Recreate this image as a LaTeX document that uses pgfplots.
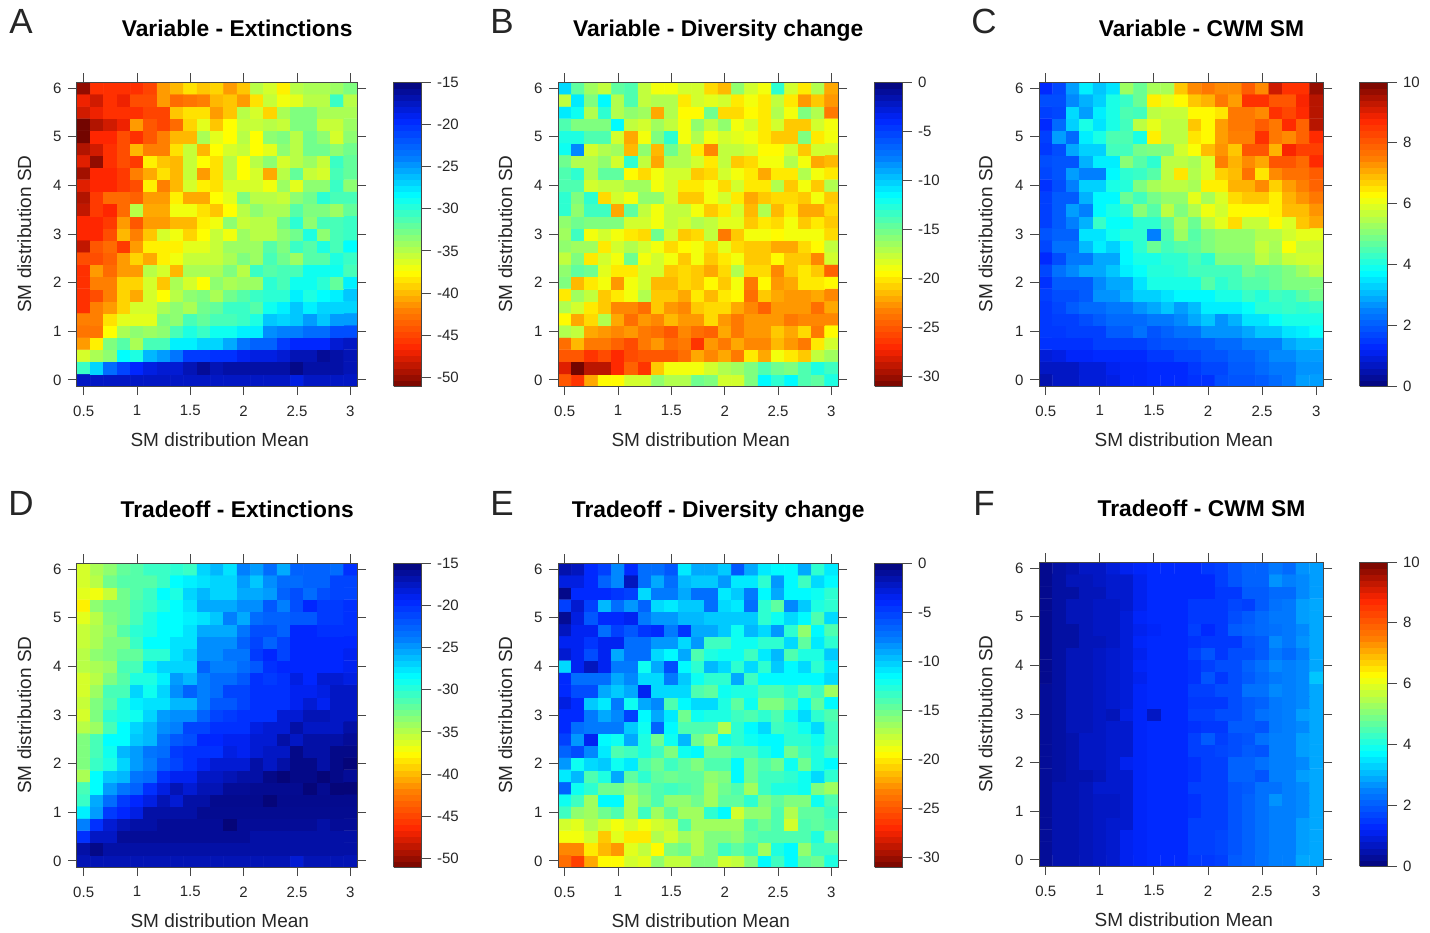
\documentclass[border=0pt]{standalone}
\usepackage{fontspec}
\setmainfont{Liberation Sans}
\usepackage{pgfplots}
\usepackage{pgfplotstable}
\pgfplotsset{compat=1.18}
% rows run from SD=6 (top) to SD=0 (bottom); columns from Mean=0.5 to Mean=3
\pgfplotstableread[header=false]{
-50 -46 -46 -46 -46 -45 -41 -40 -38.5 -39.5 -39 -41 -39.5 -35 -36 -38 -35 -34.5 -34.5 -34 -33
-47 -48 -46 -47 -44.5 -44.5 -41 -43 -42.5 -42 -40 -39.5 -41 -38.5 -35.5 -37 -36.5 -35 -35 -30.5 -35
-48 -47 -46 -46 -46 -45 -45 -39.5 -38.5 -38.5 -41 -39.5 -35 -36 -39 -34.5 -33 -33 -34.5 -34.5 -34.5
-51 -49 -48 -47 -41 -44 -45 -43 -39 -36.5 -39.5 -37.5 -35.5 -35.5 -35 -35.5 -33 -33 -35.5 -35.5 -34
-51 -46.5 -46.5 -44.5 -46 -44 -42 -40 -40 -34.5 -36.5 -37.5 -35 -37.5 -33.5 -33 -35 -32.5 -33.5 -36 -33.5
-49 -48 -46 -44.5 -40 -42 -42 -38.5 -35.5 -40 -37.5 -36 -35.5 -37.5 -36.5 -33.5 -35 -32.5 -32.5 -33.5 -32.5
-47.5 -50 -46 -44.5 -45.5 -38 -39.5 -40 -35.5 -37.5 -38.5 -35 -37.5 -35 -33.5 -36 -35 -34 -35.5 -30.5 -32
-49.5 -46.5 -46.5 -45.5 -42 -40.5 -38.5 -40 -35.5 -41 -38.5 -35 -37.5 -36 -40.5 -35 -32 -35.5 -36 -31 -32
-47.5 -46.5 -46.5 -45.5 -44.5 -38 -42 -40 -36 -38 -38.5 -36 -36 -36 -37 -34 -36.5 -33.5 -33.5 -30.5 -33.5
-49 -45.5 -43 -43 -43.5 -41 -41 -38 -40.5 -40.5 -37.5 -36.5 -33 -35 -35 -35.5 -33.5 -32.5 -30 -31 -31
-48.5 -45.5 -46.5 -43 -35 -40.5 -40.5 -37 -37 -38.5 -39.5 -37.5 -35 -33.5 -34.5 -34.5 -31.5 -33 -33 -34 -32
-46.5 -46.5 -45.5 -41 -44 -41 -41 -40 -40 -38 -37 -33.5 -35.5 -35 -35 -32.5 -30 -33.5 -31 -31 -30.5
-46.5 -46.5 -44.5 -40 -42 -39.5 -36 -37 -39 -37.5 -35.5 -37 -34 -35 -35 -33.5 -32.5 -29.5 -33.5 -31 -30.5
-48.5 -44 -43 -45.5 -41 -38 -38 -38 -36.5 -36.5 -35.5 -34 -34 -34 -31.5 -33 -30.5 -31.5 -29.5 -31 -28.5
-44.5 -44.5 -43.5 -41 -39 -40.5 -38 -37 -35.5 -35.5 -35.5 -34.5 -33 -34 -31 -32.5 -34 -31.5 -31.5 -29.5 -30.5
-46 -41 -43 -41 -41 -35 -36 -40 -34.5 -34.5 -34.5 -33 -35 -30.5 -31.5 -31 -31 -29 -29 -29 -31
-46 -42 -42 -39 -39 -36 -39.5 -34.5 -36 -37.5 -33.5 -34.5 -34 -34 -30 -31 -29 -29 -30 -32 -28
-46 -44.5 -42 -39 -40.5 -36 -37.5 -35 -33.5 -33 -34.5 -32.5 -31.5 -30.5 -30 -30 -28 -29.5 -28.5 -28 -26.5
-46 -42 -41 -39 -36 -36 -34.5 -33.5 -34.5 -32.5 -32 -30.5 -30.5 -31.5 -29 -28 -26.5 -28 -27 -27 -27
-42 -42 -38.5 -36.5 -36.5 -36.5 -33 -33.5 -31 -32 -31 -31 -30.5 -29.5 -26.5 -27 -26.5 -25 -26.5 -25 -25
-42.5 -42.5 -37.5 -34.5 -33.5 -34 -33.5 -31 -29.5 -30.5 -29 -29 -28 -28 -24.5 -24 -24 -23 -23 -21.5 -21.5
-41 -38 -33 -31.5 -34.5 -31 -31 -28 -28 -27 -27 -25.5 -23.5 -22.5 -22.5 -20.5 -19.5 -19.5 -19.5 -18 -17.5
-36 -34.5 -33.5 -28.5 -29.5 -26 -25 -23.5 -20.5 -20.5 -20 -20 -19 -18.5 -18.5 -18 -17 -17 -16 -16.5 -17
-30.5 -27 -23 -21 -19.5 -18.5 -18 -18 -17 -16 -17 -16.5 -16.5 -16.5 -16.5 -16.5 -15.5 -16.5 -16.5 -16.5 -17
-17.5 -17.5 -17.5 -17.5 -17.5 -17.5 -17.5 -17.5 -17.5 -17.5 -17.5 -17.5 -17.5 -17.5 -17.5 -17.5 -18.5 -17.5 -17.5 -17.5 -17.5
}\tA
\pgfplotstableread[header=false]{
-10.5 -14.5 -16.5 -17.5 -14.5 -14 -17.5 -19 -19 -18 -18 -20.5 -21.5 -16 -18 -19 -13 -18 -20 -17 -22
-17.5 -11 -15.5 -11.5 -17 -14 -17.5 -17 -17 -20 -18 -18.5 -18 -20 -19 -20 -17.5 -20 -22.5 -21 -22.5
-11 -12 -17 -13 -17 -16 -16.5 -22 -17 -19.5 -19.5 -15 -20.5 -20.5 -19.5 -20 -17 -19 -15.5 -17 -23.5
-14 -15.5 -15.5 -15.5 -11.5 -17.5 -18 -16.5 -17.5 -19 -16 -17.5 -16 -19 -18 -20 -18 -21 -21 -18 -19
-12.5 -12.5 -14 -14 -18 -22 -19 -15.5 -13 -19 -17 -19 -18 -18.5 -19 -20 -21 -21 -15.5 -20 -19
-12 -8 -18 -17 -16.5 -21.5 -16 -21.5 -15 -17 -20 -23 -17.5 -17.5 -18 -19.5 -19.5 -18 -21 -18 -18
-15 -17 -17 -16 -18 -13 -17.5 -22 -17 -17 -18 -20 -17.5 -21 -20.5 -19 -19 -17 -19 -22 -21.5
-14 -13 -17 -14.5 -14.5 -19.5 -20.5 -19 -18 -18 -21 -20.5 -18 -19 -20 -22 -20 -20 -17 -19 -20
-14 -14 -18 -17.5 -17.5 -16.5 -16.5 -19 -18 -20 -20 -19 -20.5 -18 -20 -20 -17 -21 -19 -21 -17
-13 -15.5 -13 -20.5 -18 -19 -16 -16 -18 -21 -21 -19 -18 -20 -22 -21 -20.5 -20.5 -21 -19 -21
-13 -16 -13.5 -13.5 -22 -14.5 -17.5 -19 -17.5 -17.5 -19 -21 -20 -18 -21.5 -17 -21.5 -20 -22 -22 -20.5
-16 -15 -15.5 -15.5 -15.5 -18 -18 -19 -17.5 -18 -17 -17.5 -18.5 -18.5 -21 -20 -20.5 -19 -21 -20 -21
-16.5 -13.5 -19 -18 -19 -20 -20.5 -15 -18 -21 -20.5 -17.5 -23.5 -21 -19 -19 -19.5 -19 -19 -19 -20.5
-16 -16.5 -16.5 -20 -18 -17 -18 -19 -20.5 -19.5 -19 -20.5 -18.5 -20.5 -21 -21 -22 -22 -20.5 -19.5 -17.5
-17.5 -15.5 -20 -18 -19 -15 -19 -18 -19 -21 -19 -21 -20 -19 -21 -21 -19.5 -21 -21 -23 -18
-16 -14.5 -15 -18.5 -20 -20 -18 -18 -21 -20.5 -21 -22 -20.5 -17 -20.5 -20.5 -23 -21 -20 -21 -24.5
-15.5 -21.5 -20 -19 -22.5 -19 -18 -21.5 -21.5 -20.5 -21 -19.5 -21 -19 -23.5 -19.5 -22.5 -22 -20 -20 -19.5
-20 -16.5 -17.5 -21 -20 -19 -17 -21 -21 -22 -20 -21.5 -20 -19.5 -24 -21 -22 -22.5 -22.5 -22 -23
-17 -18 -20 -21 -23 -23 -24 -21 -22.5 -23 -21 -20.5 -20.5 -22 -23 -24.5 -22.5 -22.5 -22.5 -24 -22
-19.5 -22 -20.5 -17 -22 -24 -22.5 -23 -21.5 -22.5 -22.5 -20.5 -22.5 -23.5 -22.5 -22.5 -22.5 -23.5 -23 -23 -23
-17 -17.5 -22 -22.5 -23 -22.5 -23.5 -24 -25 -23 -24 -24.5 -22 -23.5 -22.5 -22.5 -21 -22 -20.5 -23.5 -19.5
-24 -21.5 -23.5 -23.5 -24.5 -25.5 -23.5 -22.5 -24 -23.5 -26.5 -22.5 -23.5 -22 -23 -23 -21.5 -22.5 -23.5 -20 -18
-25 -25 -26.5 -25.5 -27 -25.5 -25 -25 -25 -24 -22 -23 -22 -23.5 -20 -22 -19 -20 -21 -17.5 -16.5
-28 -31 -29 -29 -27 -24.5 -26.5 -21 -19 -19 -19 -18 -17 -16.5 -15.5 -14 -15 -15.5 -14 -12.5 -13.5
-25 -26.5 -22 -19.5 -19.5 -18 -18 -16 -17 -17 -15 -15.5 -18 -18 -15.5 -11.5 -13 -11.5 -14 -14.5 -12.5
}\tB
\pgfplotstableread[header=false]{
1.3 1.7 2.8 3.6 3.2 3.5 5.3 4.8 5.4 5.4 6.8 7.4 7.6 7.4 7.4 8 7.4 9.2 8.6 8.6 9.7
1.8 1.8 2.6 3 3.3 4 4.3 4.8 6.4 6 6.3 6.8 7 7.6 7.2 8.6 8.6 8.1 8.1 8.8 9.4
1.6 1.7 3.4 2.8 3.6 4 4.5 4.4 5.6 5.7 5.7 6.3 6.3 6.5 7.6 7.6 7.4 8.6 8.3 8.7 9.4
1.3 2.2 3.3 4 3.5 4 4.4 5.6 6 5.6 5.6 6.8 6.3 7.2 7.6 7.6 8 7.6 8.7 7.9 9.4
1.6 2.8 2.2 3.6 4 4.5 4.5 4 6.4 5.6 5.6 6.5 6.3 7.2 7.5 7.5 8.6 7.6 7.4 7.9 8.7
1.5 1.8 2.9 3.3 3.3 4.4 4.4 4.9 5 5 5.8 6.2 6.9 7.3 6.8 8.1 8.1 7 8.8 8.4 8.4
1.8 1.9 1.9 3 3.6 3.6 5.1 4.6 4.2 5.6 5.6 5.4 5.9 7.5 7 7.4 7.1 8.1 8.1 7.8 8.7
1.7 1.9 2.8 2.5 2.5 3.7 4.2 4.3 4.6 5.6 6.5 5.5 5.9 6.7 6.9 7.7 6.5 7.4 7.7 7.7 8
1.4 1.8 2.5 3.3 3.3 4 4.1 5 5.4 5.6 5.6 5.4 6.4 6.4 7 7 7.4 6.7 7.2 7.5 7.9
1.6 2 2 3 3.7 3.7 4.8 4.4 4.9 5.2 5.2 6 5.4 5.9 6.6 6.8 6.8 6.4 7 7.3 7.6
1.6 2 2.8 2.5 3.7 4 4.2 5.1 4.6 5.6 5 5.5 6.1 5.8 6.3 6.3 6.3 6.4 6.9 6.9 7.3
1.6 2 2.5 3 4.3 3.8 3.8 4.2 4.2 4.7 5.4 4.8 5.6 6 6.6 5.7 5.7 6.3 5.9 6.8 7.1
1.9 2.1 2.1 3.5 3.5 3.9 4.2 4.2 2.5 4.5 5.3 4.6 5 5.2 5.2 5.2 5.5 5.5 5.8 6 6
1.7 2.3 2.3 3.1 3.6 3.3 3.7 4.2 4.8 4.4 4.6 4.7 5 5.2 5.2 5.2 5.7 5.4 6.2 5.7 5.7
1.3 1.8 2.4 2.4 2.9 2.9 3.7 4 4 4.2 4.2 4.5 4.2 5 5 5 5.6 5.3 5.7 5.8 5.8
1.7 2.3 2.6 2.9 2.9 3.2 3.6 3.8 4.1 4.1 4.2 4.4 4.4 4.4 4.4 4.9 4.7 4.8 5 5.3 5.6
1.4 2 2 2 2.6 2.9 2.9 3.5 4 4 4 4 4.6 4.2 4.4 4.6 4.6 4.8 5 5 5
1.6 1.8 1.8 2 2.7 2.7 3 3.3 3.3 3.5 3.7 3.7 3.7 4 4 4.3 4.1 4.4 4.3 4.6 4.9
1.5 1.7 2 2.2 2.2 2.4 2.4 2.7 2.9 3.2 2.8 3.1 3.6 3.6 3.6 3.8 4.2 4.2 4.3 4.2 4.3
1.5 1.6 1.6 1.8 2 2.2 2.2 2.2 2.4 2.4 2.6 2.9 3.2 2.7 3 3.5 3.5 3.8 4 4 4
1.5 1.5 1.6 1.6 1.6 2 2 2.3 1.9 2.1 2.3 2.3 2.7 2.7 2.7 2.9 3.2 3.2 3.5 3.6 3.8
1.4 1.4 1.4 1.4 1.6 1.6 1.6 1.6 1.8 1.9 1.9 2 2 2.2 2.2 2.5 2.5 2.5 2.9 3.1 3.1
0.9 1 1.2 1.2 1.3 1.3 1.3 1.3 1.5 1.5 1.7 1.7 1.9 1.9 2.1 2.1 2.3 2.6 2.6 2.8 2.8
0.7 0.7 0.7 0.9 0.9 1.1 1.2 1.2 1.3 1.3 1.3 1.5 1.7 1.7 2 2 2.2 2.4 2.4 2.7 2.7
0.5 0.7 0.7 0.9 0.9 1 1.2 1.2 1.3 1.3 1.3 1.4 1.4 1.8 1.9 1.9 2 2.2 2.4 2.8 2.8
}\tC
\pgfplotstableread[header=false]{
-36 -34.5 -33.5 -32 -31.5 -30.5 -30.5 -30 -30.5 -27 -26 -27.5 -24 -25 -23 -25.5 -22.5 -22.5 -22.5 -23 -20
-36 -35 -32.5 -31.5 -31.5 -31.5 -30.5 -28.5 -28 -27.5 -27 -27 -25 -26.5 -24.5 -23 -23 -22.5 -22.5 -21 -21
-36.5 -37 -35.5 -32.5 -31.5 -30.5 -28.5 -29.5 -27 -26 -27 -27 -25.5 -25.5 -25 -22.5 -21.5 -23 -21.5 -21 -21
-38 -33.5 -32.5 -32.5 -31 -30.5 -29.5 -28.5 -27.5 -25.5 -25.5 -25.5 -24.5 -24.5 -22 -24 -21.5 -19.5 -20.5 -20.5 -20
-36.5 -35 -33 -32.5 -31 -29.5 -28.5 -28.5 -28 -27.5 -26.5 -24 -25.5 -23 -22.5 -22.5 -22 -22 -20.5 -20.5 -20
-35.5 -34.5 -33.5 -31.5 -30 -29.5 -28.5 -28.5 -27.5 -25.5 -25.5 -25.5 -23.5 -21.5 -21.5 -22.5 -19.5 -19.5 -20 -20 -20
-35.5 -34.5 -33 -33 -30.5 -28.5 -28.5 -27.5 -27.5 -24.5 -24.5 -24.5 -22.5 -21 -22.5 -21 -19.5 -19.5 -19.5 -19.5 -19.5
-35 -33.5 -33 -32 -32 -30 -30 -27.5 -26.5 -24.5 -24.5 -23.5 -23.5 -20.5 -19.5 -21 -19.5 -19.5 -19.5 -19.5 -19
-35 -34.5 -34 -31 -31 -28 -27 -27 -27 -22.5 -24 -24 -23 -22 -20 -19.5 -19.5 -19.5 -19.5 -19.5 -19
-36 -35 -33 -31.5 -29.5 -29.5 -28 -25 -26 -24 -23 -23 -22 -20 -20.5 -20 -18.5 -19.5 -18 -18 -18.5
-36 -34 -31 -31 -27 -29 -27 -24.5 -22.5 -24 -23 -21 -21 -20 -20 -20 -19 -19 -18.5 -17.5 -17.5
-35.5 -33 -31.5 -29.5 -28 -27.5 -27.5 -26 -26 -24 -22 -22 -21 -20 -20 -20 -19 -18 -19 -17.5 -17.5
-36 -33 -30 -29.5 -29 -27 -25 -24.5 -24.5 -22.5 -21 -20.5 -20 -20 -20 -18 -18 -17 -17 -17.5 -17.5
-35 -34 -31 -28.5 -27 -26 -24.5 -24 -21 -21 -20 -20 -20 -18.5 -18 -18 -16.5 -17.5 -17.5 -17.5 -16.5
-33 -31 -28.5 -28.5 -26.5 -26 -23.5 -22 -21.5 -19.5 -19.5 -19 -19 -18 -18 -16.5 -17.5 -16.5 -16.5 -16.5 -16
-33 -31 -29 -26 -25 -23.5 -23 -20.5 -20 -20 -20 -18.5 -19 -18 -17.5 -17.5 -15.5 -16.5 -16.5 -15.5 -15.5
-33 -30.5 -29.5 -27 -25 -24 -22 -21 -20 -19 -18 -18 -18 -16.5 -17.5 -16.5 -15.5 -15.5 -16.5 -15.5 -15
-34.5 -28.5 -26.5 -26 -23.5 -23 -20 -19 -19 -17.5 -17.5 -17 -16.5 -16.5 -15.5 -15 -15.5 -15.5 -15 -15.5 -16
-31 -28.5 -25 -23.5 -22.5 -20 -18.5 -17 -18 -17 -17 -16 -16 -15.8 -15.8 -15.8 -15.8 -15 -15.8 -15 -15
-30.5 -25.5 -23 -20.5 -19.5 -18.5 -17 -18 -16.5 -16.5 -15.7 -15.7 -15.7 -15.7 -15 -15.7 -15.7 -15.7 -15.7 -15.7 -15.7
-28 -25 -20.5 -19.5 -18.5 -16.5 -16.5 -16.5 -16.5 -15.8 -15.8 -15.8 -15.8 -15.8 -15.8 -15.8 -15.8 -15.8 -15.8 -15.8 -15.8
-24 -20 -18 -17 -16.5 -16.5 -16 -16 -16 -16 -16 -15 -16 -16 -16 -16 -16 -16 -16.5 -16 -16
-20 -17.5 -17.5 -16 -16 -16 -16 -16 -16 -16 -16 -16 -16 -16.5 -16.5 -16.5 -16.5 -16.5 -16.5 -16.5 -16.5
-16.5 -15.5 -16.5 -16.5 -16.5 -16.5 -16.5 -16.5 -16.5 -16.5 -16.5 -16.5 -16.5 -16.5 -16.5 -16.5 -16.5 -16.5 -16.5 -16.5 -16.5
-17 -17 -17 -17 -17 -17 -17 -17 -17 -17 -17 -17 -17 -17 -17 -17 -18 -17 -17 -17 -17
}\tD
\pgfplotstableread[header=false]{
-1.5 -2 -4 -5 -8 -4 -7 -7 -6 -11 -9 -9 -10 -6 -9 -11 -11.5 -11.5 -9 -13 -11
-3 -3 -4 -6.5 -8 -2 -7 -9 -7 -9.5 -10 -10 -8.5 -11 -11 -13 -8.5 -11.5 -13.5 -10.5 -11.5
-0.5 -4 -4 -4 -4.5 -5 -10.5 -7.5 -7.5 -9 -7 -7 -11 -10 -7.5 -11.5 -9 -11.5 -11.5 -12 -13
-5 -2.5 -5 -9.5 -7 -8.5 -6.5 -10.5 -11 -10 -10 -7 -10.5 -11 -7 -13 -14.5 -8 -10 -12.5 -13
-0.8 -3 -6 -4 -4 -3.5 -7.5 -8.5 -8.5 -9.5 -9.5 -10 -10 -10 -10 -13 -12 -10.5 -11.5 -14 -10.5
-2 -3.5 -3.5 -7 -5 -6 -4.5 -4 -7.5 -4.5 -9 -9 -10 -12 -9.5 -10.5 -8.5 -13 -16 -11.5 -14
-3.5 -3.5 -4.5 -3.5 -3.5 -7 -7 -8.5 -8.5 -10.5 -8.5 -13.5 -13.5 -12 -12 -13 -13 -10.5 -14.5 -11 -13
-2.5 -3.5 -5.5 -3.5 -9 -7 -7 -10.5 -11.5 -9 -14 -12.5 -12 -12 -13.5 -11 -9.5 -14 -12.5 -12.5 -10
-10.5 -3.5 -2 -3.5 -7.5 -7.5 -12 -9 -5.5 -11.5 -13 -9.5 -10.5 -13 -10.5 -13 -10 -11.5 -10.5 -13 -11
-4 -7 -7 -7 -9 -8 -10.5 -10.5 -7.5 -10 -12 -13 -13 -9 -13.5 -11.5 -11.5 -11.5 -11.5 -11.5 -10.5
-4 -5.5 -5.5 -9 -10 -9 -3.5 -10.5 -10.5 -10.5 -14 -14.5 -12 -12.5 -12.5 -14 -14 -13 -14.5 -13.5 -16.5
-3 -4 -10 -11 -7.5 -12 -9 -8 -14 -11.5 -10.5 -10.5 -12.5 -14.5 -12 -15.5 -15.5 -14 -11.5 -14.5 -11.5
-4 -4 -7.5 -9 -8 -5 -11.5 -9 -11 -15 -12 -12.5 -12.5 -13.5 -14 -13 -14 -12 -10.5 -13 -14
-4 -7 -7.5 -7.5 -7.5 -10 -12 -6.5 -11.5 -14 -14 -14 -17 -13 -11.5 -10.5 -13.5 -13 -12 -10.5 -13.5
-5 -8.5 -3.5 -11.5 -12 -9 -12.5 -15 -12 -9.5 -15 -16.5 -12 -13 -12 -11.5 -11.5 -13 -13 -12 -13.5
-6.5 -5.5 -8 -11 -14 -13.5 -12.5 -13.5 -15.5 -12 -11.5 -15 -15 -14 -14 -12.5 -11.5 -15 -13.5 -12.5 -14
-8.5 -12 -10.5 -10 -12 -11 -14 -15 -13.5 -14.5 -15.5 -14 -14 -11.5 -15 -14 -15 -12 -15 -12.5 -11.5
-11 -9.5 -14 -12.5 -9 -14.5 -13 -14.5 -15 -14.5 -14.5 -16 -15.5 -11.5 -15 -13.5 -13.5 -13 -12 -10.5 -13
-6.5 -12 -13 -15 -15 -16 -15 -14 -13.5 -14 -14.5 -16.5 -15 -14 -16.5 -13.5 -12.5 -12.5 -12 -15.5 -16.5
-12 -13.5 -16.5 -11.5 -11.5 -17 -15.5 -14 -16 -16 -15 -16.5 -14.5 -14.5 -13 -15.5 -14.5 -15.5 -15.5 -12 -14
-13.5 -16 -16.5 -15 -14 -17 -13.5 -16.5 -14.5 -16.5 -16.5 -13 -11.5 -18 -16 -16 -14 -17 -14.5 -14.5 -13.5
-18 -18.5 -17 -18 -19 -18 -19 -18 -17.5 -14 -16.5 -16.5 -16.5 -16.5 -14 -15 -14 -18 -14 -14.5 -14
-19 -19 -18 -21 -18.5 -20 -20 -17 -18 -16.5 -17 -15.5 -15.5 -16 -14.5 -14 -14 -14 -14 -12.5 -15.5
-23 -23 -20 -21.5 -22.5 -18.5 -17.5 -19.5 -15.5 -15 -17 -15.5 -13.5 -14.5 -13.5 -16.5 -12.5 -11.5 -16 -13.5 -13.5
-24 -26 -22 -19.5 -19.5 -18 -18.5 -16 -17.5 -17.5 -15.5 -15.5 -18 -17.5 -15.5 -11.5 -13.5 -11.5 -14.5 -15 -12.5
}\tE
\pgfplotstableread[header=false]{
0.2 0.4 0.5 0.7 0.7 0.9 1.1 1.2 1.3 1.3 1.3 1.3 1.5 1.6 1.9 2.1 2.1 2.4 2.2 2.7 2.8
0.2 0.4 0.6 0.6 0.7 0.8 0.8 1.1 1.3 1.3 1.3 1.3 1.3 1.6 1.9 2.1 2.1 2.7 2.5 2.6 2.8
0.2 0.4 0.4 0.6 0.6 0.8 0.8 1.1 1.3 1.3 1.3 1.3 1.3 1.5 1.5 2 2 2.2 2.2 2.6 2.8
0.2 0.4 0.6 0.6 0.7 0.7 0.8 1.1 1.3 1.3 1.3 1.5 1.5 1.5 1.7 1.6 2 2.3 2.4 2.8 2.9
0.2 0.4 0.6 0.6 0.7 0.7 0.9 1.2 1.3 1.3 1.3 1.5 1.5 1.5 1.8 2 2.2 2.4 2.4 2.8 2.9
0.2 0.4 0.4 0.6 0.7 0.7 0.9 1.1 1.2 1.3 1.3 1.6 1.3 1.5 2 2.1 2.2 2.3 2.4 2.6 2.9
0.2 0.4 0.4 0.6 0.6 0.7 0.9 1.2 1.3 1.3 1.3 1.4 1.5 1.5 1.5 1.9 2 2.6 2.4 2.7 2.9
0.2 0.4 0.6 0.6 0.7 0.8 0.9 1.1 1.3 1.3 1.3 1.6 1.9 1.5 1.8 1.8 2 2.4 2.2 2.5 2.9
0.2 0.4 0.6 0.6 0.7 0.8 0.9 1.2 1.3 1.3 1.3 1.4 1.6 1.8 1.8 2.1 2.3 2.6 2.5 2.6 2.9
0.2 0.4 0.6 0.6 0.7 0.8 0.9 1.1 1.3 1.3 1.3 1.4 1.9 1.5 1.8 2 2.2 2.4 2.5 2.6 3.2
0.3 0.4 0.6 0.6 0.7 0.8 0.9 1.2 1.3 1.3 1.3 1.6 1.6 1.8 1.8 2.3 2.3 2.6 2.5 2.6 2.9
0.3 0.4 0.6 0.6 0.7 0.8 0.9 1.2 1.3 1.3 1.3 1.5 1.5 1.5 1.8 2 2.1 2.4 2.5 2.6 2.9
0.3 0.4 0.6 0.6 0.7 0.6 1 1.2 0.7 1.3 1.3 1.6 1.6 1.8 1.8 2 2.3 2.4 2.5 2.8 2.9
0.3 0.4 0.6 0.6 0.7 0.8 0.8 1.2 1.3 1.3 1.3 1.4 1.5 1.5 2 2 1.9 2.4 2.5 2.6 2.9
0.3 0.4 0.5 0.7 0.7 0.8 0.8 1.2 1.3 1.3 1.3 1.6 2 1.6 1.8 1.9 2.3 2.5 2.5 2.8 2.9
0.3 0.4 0.5 0.7 0.7 0.8 0.8 1.2 1.3 1.3 1.3 1.6 1.6 1.7 1.8 2 1.9 2.5 2.5 2.8 2.9
0.3 0.4 0.5 0.7 0.7 0.8 1.1 1.2 1.3 1.3 1.3 1.4 1.6 1.6 2.1 2.1 2.3 2.5 2.5 2.6 2.9
0.3 0.4 0.5 0.5 0.6 0.8 0.8 1.2 1.3 1.3 1.3 1.4 1.6 1.6 2.1 2.1 1.9 2.5 2.5 2.8 2.9
0.3 0.5 0.5 0.6 0.8 0.8 0.8 1.2 1.3 1.3 1.3 1.6 1.6 1.6 1.9 2 2.3 2.3 2.5 2.6 2.9
0.3 0.5 0.5 0.6 0.7 0.7 0.8 1.2 1.3 1.3 1.3 1.4 1.6 1.6 1.9 2.1 2.3 2.7 2.5 2.6 2.9
0.3 0.5 0.5 0.6 0.7 0.7 0.8 1.2 1.3 1.3 1.3 1.4 1.6 1.6 1.9 2.1 2.3 2.5 2.5 2.6 2.9
0.3 0.5 0.5 0.6 0.7 0.8 0.8 1.2 1.3 1.3 1.3 1.6 1.6 1.6 1.9 2.1 2.3 2.5 2.5 2.8 2.9
0.3 0.5 0.5 0.6 0.7 0.8 1.1 1.2 1.3 1.3 1.3 1.6 1.6 1.7 1.9 2.1 2.3 2.5 2.5 2.8 2.9
0.3 0.5 0.5 0.6 0.7 0.8 1.1 1.2 1.3 1.3 1.3 1.6 1.6 1.7 1.9 2.1 2.3 2.5 2.5 2.8 2.9
0.3 0.5 0.5 0.6 0.7 0.8 1.1 1.2 1.3 1.3 1.3 1.5 1.5 1.6 2 2.1 2.3 2.5 2.5 2.9 2.9
}\tF
% turn a wide table into the coordinate list of a 21 x 25 matrix plot
\newcommand\buildcoords[2]{%
  \gdef#2{}%
  \pgfplotsforeachungrouped \r in {24,23,...,0}{%
    \pgfmathsetmacro{\yy}{6-0.25*\r}%
    \pgfplotsforeachungrouped \c in {0,...,20}{%
      \pgfmathsetmacro{\xx}{0.5+0.125*\c}%
      \pgfplotstablegetelem{\r}{[index]\c}\of#1%
      \xdef#2{#2 (\xx,\yy) [\pgfplotsretval]}%
    }%
  }%
}
\buildcoords{\tA}{\cA}
\buildcoords{\tB}{\cB}
\buildcoords{\tC}{\cC}
\buildcoords{\tD}{\cD}
\buildcoords{\tE}{\cE}
\buildcoords{\tF}{\cF}
\definecolor{ink}{gray}{0.15}
\definecolor{frame}{gray}{0.28}
\pgfplotsset{
  colormap={rjet}{rgb255=(5,5,120) rgb255=(0,38,255) rgb255=(0,127,255) rgb255=(0,255,255) rgb255=(127,255,127) rgb255=(255,255,0) rgb255=(255,127,0) rgb255=(255,38,0) rgb255=(115,5,0)},
  colormap={rjetrev}{rgb255=(115,5,0) rgb255=(255,38,0) rgb255=(255,127,0) rgb255=(255,255,0) rgb255=(127,255,127) rgb255=(0,255,255) rgb255=(0,127,255) rgb255=(0,38,255) rgb255=(5,5,120)},
  panel/.style={
    scale only axis, height=304pt,
    xmin=0.4375, xmax=3.0625, ymin=-0.125, ymax=6.125,
    xtick={0.5,1,1.5,2,2.5,3}, xticklabels={0.5,1,1.5,2,2.5,3},
    ytick={0,1,2,3,4,5,6},
    tick align=outside, xtick pos=both, ytick pos=both,
    xticklabel pos=bottom, yticklabel pos=left,
    major tick length=9pt,
    axis line style={frame,line width=1pt},
    every tick/.style={frame,line width=1pt},
    axis on top,
    tick label style={font=\fontsize{15}{17}\selectfont,text=ink},
    xticklabel style={yshift=-7pt},
    yticklabel style={xshift=-3pt},
    /pgf/number format/assume math mode=true,
    xlabel={SM distribution Mean}, ylabel={SM distribution SD},
    every axis x label/.style={at={(axis description cs:0.51,-0.2)},anchor=base,font=\fontsize{19}{22}\selectfont,text=ink},
    every axis y label/.style={at={(axis description cs:-0.164,0.5)},rotate=90,anchor=base,font=\fontsize{19}{22}\selectfont,text=ink},
    every axis title/.style={at={(axis description cs:0.572,1.151)},anchor=base,font=\fontsize{22.8}{26}\selectfont\bfseries,text=black},
    colorbar right, colorbar sampled,
    colorbar/width=28pt,
    colorbar style={at={(parent axis.south east)},anchor=south west,xshift=36pt-8pt,
      samples=51, height=304pt,
      ytick pos=right, yticklabel pos=right, xtick=\empty,
      tick align=outside, major tick length=9pt,
      axis line style={frame,line width=1pt},
      every tick/.style={frame,line width=1pt},
      tick label style={font=\fontsize{15}{17}\selectfont,text=ink},
      yticklabel style={xshift=3pt},
      /pgf/number format/assume math mode=true,
      axis on top},
  },
  barExt/.style={colormap name=rjetrev, point meta min=-51, point meta max=-15,
    colorbar style={ytick={-50,-45,-40,-35,-30,-25,-20,-15}}},
  barDiv/.style={colormap name=rjetrev, point meta min=-31, point meta max=0,
    colorbar style={ytick={-30,-25,-20,-15,-10,-5,0}}},
  barSM/.style={colormap name=rjet, point meta min=0, point meta max=10,
    colorbar style={ytick={0,2,4,6,8,10}}},
}
\newcommand\heat[1]{%
  \edef\tmp{\noexpand\addplot[matrix plot*, mesh/cols=21, point meta=explicit] coordinates {#1};}\tmp}
\begin{document}
\begin{tikzpicture}
\path[use as bounding box] (0pt,0pt) rectangle (1430pt,-932pt);
\begin{axis}[panel,barExt,width=280pt,at={(77pt,-386pt)},anchor=south west,title={Variable - Extinctions}]
\heat{\cA}
\end{axis}
\begin{axis}[panel,barDiv,width=280pt,at={(558pt,-386pt)},anchor=south west,title={Variable - Diversity change}]
\heat{\cB}
\end{axis}
\begin{axis}[panel,barSM,width=284pt,at={(1039pt,-386pt)},anchor=south west,title={Variable - CWM SM}]
\heat{\cC}
\end{axis}
\begin{axis}[panel,barExt,width=280pt,at={(77pt,-867pt)},anchor=south west,title={Tradeoff - Extinctions}]
\heat{\cD}
\end{axis}
\begin{axis}[panel,barDiv,width=280pt,at={(558pt,-867pt)},anchor=south west,title={Tradeoff - Diversity change}]
\heat{\cE}
\end{axis}
\begin{axis}[panel,barSM,width=284pt,at={(1039pt,-866pt)},anchor=south west,title={Tradeoff - CWM SM}]
\heat{\cF}
\end{axis}
\foreach \t/\px/\py in {A/21/33,B/502/33,C/984/33,D/21/515,E/502/515,F/984/515}{
  \node[anchor=base,font=\fontsize{35}{38}\selectfont,text=ink] at (\px pt,-\py pt) {\t};
}
\end{tikzpicture}
\end{document}
